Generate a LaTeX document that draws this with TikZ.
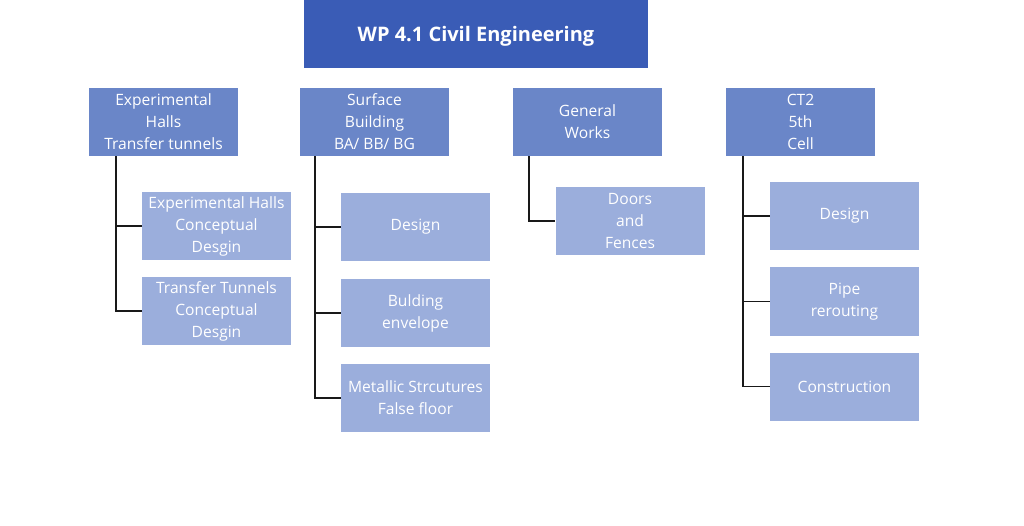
\documentclass[tikz,border=0pt]{standalone}
\usepackage{fontspec}
\setmainfont{Open Sans}
\begin{document}
\begin{tikzpicture}[x=1pt,y=-1pt,
  box/.style={minimum width=149pt,minimum height=68pt,inner sep=0pt,text=white,align=center,
    font=\fontsize{15.6}{22}\selectfont},
  l1/.style={box,fill=lvone},
  l2/.style={box,fill=lvtwo},
  conn/.style={draw=black!90,line width=1.6pt}]
\definecolor{topc}{HTML}{3A5CB6}
\definecolor{lvone}{HTML}{6A86C8}
\definecolor{lvtwo}{HTML}{9BAEDC}
\useasboundingbox[fill=white] (0,0) rectangle (1024,526);
\node[fill=topc,minimum width=344pt,minimum height=68pt,inner sep=0pt,text=white,
  text height=16pt,text depth=0pt,
  font=\bfseries\fontsize{20}{24}\selectfont] (top) at (476,34) {WP 4.1 Civil Engineering};
% level 1
\node[l1] (a) at (163.5,122) {Experimental\\Halls\\Transfer tunnels};
\node[l1] (b) at (374.5,122) {Surface\\Building\\BA/ BB/ BG};
\node[l1] (c) at (587.5,122) {General\\Works};
\node[l1] (d) at (800.5,122) {CT2\\5th\\Cell};
% level 2
\node[l2] (a1) at (216.5,226) {Experimental Halls\\Conceptual\\Desgin};
\node[l2] (a2) at (216.5,311) {Transfer Tunnels\\Conceptual\\Desgin};
\node[l2] (b1) at (415.5,227) {Design};
\node[l2] (b2) at (415.5,313) {Bulding\\envelope};
\node[l2] (b3) at (415.5,398) {Metallic Strcutures\\False floor};
\node[l2] (c1) at (630,221) {Doors\\and\\Fences};
\node[l2] (d1) at (844.5,216) {Design};
\node[l2] (d2) at (844.5,301.5) {Pipe\\rerouting};
\node[l2] (d3) at (844.5,386.5) {Construction};
% connectors
\draw[conn] ([xshift=27pt]a.south west) |- (a1.west);
\draw[conn] ([xshift=27pt]a.south west) |- (a2.west);
\draw[conn] ([xshift=15pt]b.south west) |- (b1.west);
\draw[conn] ([xshift=15pt]b.south west) |- (b2.west);
\draw[conn] ([xshift=15pt]b.south west) |- (b3.west);
\draw[conn] ([xshift=16pt]c.south west) |- (c1.west);
\draw[conn] ([xshift=17pt]d.south west) |- (d1.west);
\draw[conn] ([xshift=17pt]d.south west) |- (d2.west);
\draw[conn] ([xshift=17pt]d.south west) |- (d3.west);
\end{tikzpicture}
\end{document}
